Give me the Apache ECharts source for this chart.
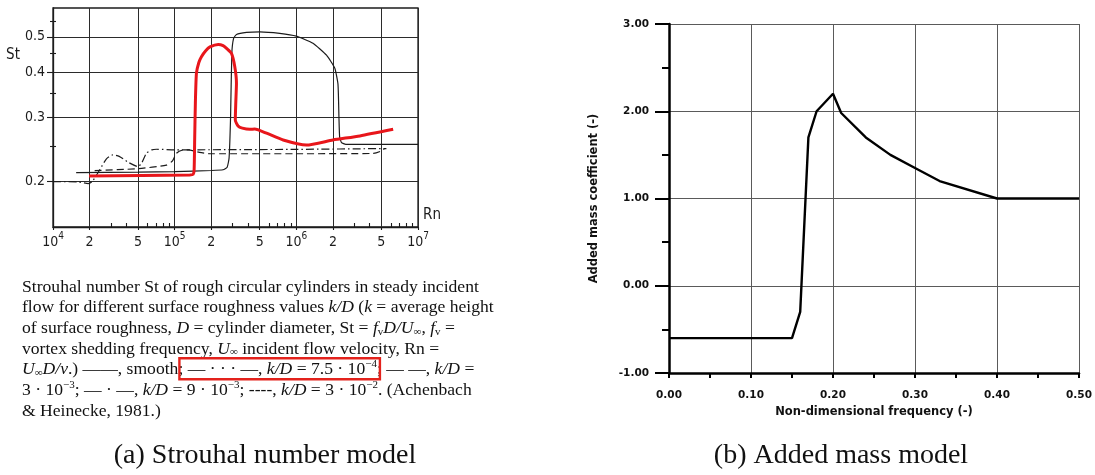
<!DOCTYPE html>
<html>
<head>
<meta charset="utf-8">
<script src="https://cdn.jsdelivr.net/npm/echarts@6.0.0/dist/echarts.min.js"></script>
<style>
  html, body { margin: 0; padding: 0; background: #ffffff; }
  #chart { width: 1095px; height: 475px; }
</style>
</head>
<body>
<div id="chart"></div>
<script>
// ---------- (a) Strouhal number St against Reynolds number Rn (log-log) ----------
const rnTicks = [1e4, 2e4, 5e4, 1e5, 2e5, 5e5, 1e6, 2e6, 5e6, 1e7];
const rnTickLabels = ['{b|10}{p|4}', '{b|2}', '{b|5}', '{b|10}{p|5}', '{b|2}', '{b|5}',
                      '{b|10}{p|6}', '{b|2}', '{b|5}', '{b|10}{p|7}'];
const rnMinorTicks = [3e4, 4e4, 6e4, 7e4, 8e4, 9e4, 3e5, 4e5, 6e5, 7e5, 8e5, 9e5,
                      3e6, 4e6, 6e6, 7e6, 8e6, 9e6];
const stTicks = [0.2, 0.3, 0.4, 0.5];
const stTickLabels = ['0.2', '0.3', '0.4', '0.5'];
const stMinorTicks = [0.25, 0.35, 0.45, 0.55];

// smooth cylinder (solid)
const smoothRn = [1.55e4, 5e4, 1e5, 2e5, 2.5e5, 2.7e5, 2.8e5, 2.88e5, 2.95e5, 3.05e5, 3.22e5,
                  3.9e5, 5.0e5, 7.3e5, 1.0e6, 1.37e6, 1.77e6, 2.07e6, 2.2e6, 2.24e6, 2.27e6,
                  2.35e6, 2.55e6, 1e7];
const smoothSt = [0.2115, 0.2122, 0.213, 0.2145, 0.2155, 0.219, 0.232, 0.30, 0.45, 0.495, 0.5075,
                  0.514, 0.516, 0.511, 0.502, 0.48, 0.445, 0.41, 0.37, 0.30, 0.265,
                  0.256, 0.253, 0.253];

// k/D = 9e-3 (dash-dot)
const roughARn = [1.0e4, 1.6e4, 1.95e4, 2.1e4, 2.42e4, 2.75e4, 3.1e4, 3.5e4, 4.2e4, 5.0e4,
                  5.4e4, 5.86e4, 6.5e4, 7.1e4, 1.0e5, 1.0e6, 5.5e6];
const roughASt = [0.200, 0.1995, 0.1975, 0.200, 0.2153, 0.231, 0.2368, 0.2345, 0.2255, 0.2199,
                  0.226, 0.2393, 0.2445, 0.2454, 0.2445, 0.2452, 0.2465];

// k/D = 3e-3 (long dash)
const roughBRn = [2.2e4, 5e4, 8.56e4, 9.6e4, 1.035e5, 1.17e5, 1.3e5, 1.6e5, 2.0e5, 1e6,
                  4.3e6, 4.9e6, 5.3e6];
const roughBSt = [0.2144, 0.217, 0.222, 0.228, 0.2393, 0.2443, 0.2445, 0.2405, 0.2385, 0.2385,
                  0.239, 0.242, 0.2465];

// adopted St model (red)
const modelRn = [1.98e4, 1.33e5, 1.42e5, 1.445e5, 1.46e5, 1.48e5, 1.51e5, 1.58e5, 1.66e5, 1.8e5,
                 1.95e5, 2.28e5, 2.5e5, 2.67e5, 2.93e5, 3.12e5, 3.22e5, 3.18e5, 3.15e5, 3.32e5,
                 3.6e5, 4.15e5, 4.55e5, 5.69e5, 7.79e5, 1.21e6, 2.0e6, 3.33e6, 6.25e6];
const modelSt = [0.2073, 0.2086, 0.2095, 0.215, 0.26, 0.33, 0.397, 0.425, 0.441, 0.458,
                 0.469, 0.4765, 0.473, 0.4645, 0.45, 0.4136, 0.3724, 0.33, 0.2953, 0.2844,
                 0.2805, 0.2784, 0.279, 0.2716, 0.2602, 0.252, 0.2602, 0.267, 0.2784];

// ---------- (b) Added mass coefficient against non-dimensional frequency ----------
const freq = [0.00, 0.15, 0.16, 0.17, 0.18, 0.20, 0.21, 0.24, 0.27, 0.30, 0.33, 0.40, 0.50];
const addedMass = [-0.60, -0.60, -0.30, 1.70, 2.00, 2.20, 1.98, 1.70, 1.50, 1.35, 1.20, 1.00, 1.00];

// ---------- caption text of panel (a), one token list per line ----------
const captionLines = [
  [['t', 'Strouhal number St of rough circular cylinders in steady incident']],
  [['t', 'flow for different surface roughness values '], ['i', 'k/D'], ['t', ' ('], ['i', 'k'], ['t', ' = average height']],
  [['t', 'of surface roughness, '], ['i', 'D'], ['t', ' = cylinder diameter, St = '], ['i', 'f'], ['b', 'v'],
   ['i', 'D/U'], ['b', '\u221e'], ['t', ', '], ['i', 'f'], ['b', 'v'], ['t', ' =']],
  [['t', 'vortex shedding frequency, '], ['i', 'U'], ['b', '\u221e'], ['t', ' incident flow velocity, Rn =']],
  [['i', 'U'], ['b', '\u221e'], ['i', 'D/\u03bd'], ['t', '.) \u2014\u2014, smooth'], ['t', '; \u2014 \u00b7 \u00b7 \u00b7 \u2014, '],
   ['i', 'k/D'], ['t', ' = 7.5 \u00b7 10'], ['p', '\u22124'], ['t', '; \u2014 \u2014, '], ['i', 'k/D'], ['t', ' =']],
  [['t', '3 \u00b7 10'], ['p', '\u22123'], ['t', '; \u2014 \u00b7 \u2014, '], ['i', 'k/D'], ['t', ' = 9 \u00b7 10'], ['p', '\u22123'],
   ['t', '; ----, '], ['i', 'k/D'], ['t', ' = 3 \u00b7 10'], ['p', '\u22122'], ['t', '. (Achenbach']],
  [['t', '& Heinecke, 1981.)']]
];
const captionA = '(a) Strouhal number model';
const captionB = '(b) Added mass model';

// ---------- helpers ----------
const pairs = (xs, ys) => xs.map((x, i) => [x, ys[i]]);
const nearIndex = (arr, v) => arr.findIndex(a => Math.abs(a - v) <= Math.abs(a) * 1e-6);

const handFont = "'DejaVu Sans Condensed', 'DejaVu Sans', sans-serif";
const serifFont = "'Liberation Serif', 'Times New Roman', serif";
const plotFont = "'DejaVu Sans', Arial, sans-serif";
const ink = '#1c1c1c';

// caption paragraph styles
const capSize = 17.6, capSmall = 11;
const capRich = {
  t: { fontFamily: serifFont, fontSize: capSize, lineHeight: 20, verticalAlign: 'bottom', fill: '#111' },
  i: { fontFamily: serifFont, fontSize: capSize, fontStyle: 'italic', lineHeight: 20, verticalAlign: 'bottom', fill: '#111' },
  p: { fontFamily: serifFont, fontSize: capSmall, lineHeight: 10, verticalAlign: 'top', fill: '#111' },
  b: { fontFamily: serifFont, fontSize: capSmall, lineHeight: 10, verticalAlign: 'bottom', fill: '#111' }
};

// width of a token list, measured with the same fonts the renderer uses
const measureCtx = document.createElement('canvas').getContext('2d');
function tokenWidth(tok) {
  const s = capRich[tok[0]];
  measureCtx.font = (s.fontStyle === 'italic' ? 'italic ' : '') + s.fontSize + 'px ' + s.fontFamily;
  return measureCtx.measureText(tok[1]).width;
}
const tokensWidth = toks => toks.reduce((w, t) => w + tokenWidth(t), 0);

const capX = 22;
const capY0 = 286;
const capStep = 20.7;

const graphics = [];
captionLines.forEach((toks, li) => {
  graphics.push({
    type: 'text', x: capX, y: capY0 + li * capStep,
    style: {
      text: toks.map(t => '{' + t[0] + '|' + t[1] + '}').join(''),
      rich: capRich, align: 'left', verticalAlign: 'middle'
    }
  });
});

// highlight box around the k/D = 7.5e-4 entry (line 5, tokens 4..7)
{
  const line = captionLines[4];
  const startW = tokensWidth(line.slice(0, 4));
  const endW = tokensWidth(line.slice(0, 8));
  const cy = capY0 + 4 * capStep;
  graphics.push({
    type: 'rect',
    shape: { x: capX + startW + 1, y: cy - 10.5, width: endW - startW + 2, height: 21 },
    style: { fill: 'none', stroke: '#e3221c', lineWidth: 2.4 }
  });
}

// axis symbols drawn in the hand lettering of panel (a)
graphics.push({ type: 'text', x: 13, y: 55,
  style: { text: 'St', fontFamily: handFont, fontSize: 15, fill: ink, align: 'center', verticalAlign: 'middle' } });
graphics.push({ type: 'text', x: 423, y: 215,
  style: { text: 'Rn', fontFamily: handFont, fontSize: 15, fill: ink, align: 'left', verticalAlign: 'middle' } });

// sub-figure captions
graphics.push({ type: 'text', x: 265, y: 456,
  style: { text: captionA, fontFamily: serifFont, fontSize: 28, fill: '#111', align: 'center', verticalAlign: 'middle' } });
graphics.push({ type: 'text', x: 841, y: 456,
  style: { text: captionB, fontFamily: serifFont, fontSize: 28, fill: '#111', align: 'center', verticalAlign: 'middle' } });

// ---------- chart ----------
const chart = echarts.init(document.getElementById('chart'), null, { renderer: 'canvas' });

const handRich = {
  b: { fontFamily: handFont, fontSize: 14, lineHeight: 18, verticalAlign: 'bottom', color: ink },
  p: { fontFamily: handFont, fontSize: 10, lineHeight: 10, verticalAlign: 'top', color: ink }
};

const rightLabel = { fontFamily: plotFont, fontWeight: 'bold', fontSize: 10.5, color: '#111' };
const rightName = { fontFamily: plotFont, fontWeight: 'bold', fontSize: 11.5, color: '#111' };

const logX = {
  type: 'log', logBase: 10, gridIndex: 0, min: 1e4, max: 1e7, position: 'bottom'
};
const logY = {
  type: 'log', logBase: 10, gridIndex: 0, min: 0.15, max: 0.6, position: 'left'
};

const option = {
  animation: false,
  backgroundColor: '#ffffff',
  grid: [
    { left: 53, right: 677, top: 8, bottom: 248, show: true, borderColor: ink, borderWidth: 1.3,
      backgroundColor: 'transparent' },
    { left: 669, right: 16, top: 24, bottom: 102 }
  ],
  xAxis: [
    Object.assign({}, logX, {
      axisLine: { show: true, lineStyle: { color: ink, width: 1.3 } },
      axisTick: { show: true, customValues: rnTicks, length: 3, lineStyle: { color: ink, width: 1.1 } },
      axisLabel: {
        show: true, customValues: rnTicks, margin: 4, rich: handRich,
        formatter: v => rnTickLabels[nearIndex(rnTicks, v)] || ''
      },
      splitLine: { show: true, lineStyle: { color: '#2b2b2b', width: 1 } },
      minorTick: { show: false }, minorSplitLine: { show: false }
    }),
    Object.assign({}, logX, {
      offset: 0,
      axisLine: { show: false },
      axisTick: { show: true, inside: true, customValues: rnMinorTicks, length: 4, lineStyle: { color: ink, width: 1.1 } },
      axisLabel: { show: false },
      splitLine: { show: false }
    }),
    {
      type: 'value', gridIndex: 1, min: 0, max: 0.5, interval: 0.1, position: 'bottom',
      name: 'Non-dimensional frequency (-)', nameLocation: 'middle', nameGap: 32,
      nameTextStyle: rightName,
      axisLine: { show: true, onZero: false, lineStyle: { color: '#000', width: 2.5 } },
      axisTick: { show: true, length: 5, lineStyle: { color: '#000', width: 2 } },
      minorTick: { show: true, splitNumber: 2, length: 5, lineStyle: { color: '#000', width: 2 } },
      axisLabel: Object.assign({ margin: 17, formatter: v => v.toFixed(2) }, rightLabel),
      splitLine: { show: true, lineStyle: { color: '#5a5a5a', width: 1 } }
    }
  ],
  yAxis: [
    Object.assign({}, logY, {
      axisLine: { show: true, lineStyle: { color: ink, width: 1.3 } },
      axisTick: { show: true, customValues: stTicks, length: 6, lineStyle: { color: ink, width: 1.1 } },
      axisLabel: {
        show: true, customValues: stTicks, margin: 8,
        fontFamily: handFont, fontSize: 14, color: ink,
        formatter: v => stTickLabels[nearIndex(stTicks, v)] || ''
      },
      splitLine: { show: true, lineStyle: { color: '#2b2b2b', width: 1 } },
      minorTick: { show: false }, minorSplitLine: { show: false }
    }),
    Object.assign({}, logY, {
      offset: 0,
      axisLine: { show: false },
      axisTick: { show: true, customValues: stMinorTicks, length: 3, lineStyle: { color: ink, width: 1.1 } },
      axisLabel: { show: false },
      splitLine: { show: false }
    }),
    Object.assign({}, logY, {
      offset: 0,
      axisLine: { show: false },
      axisTick: { show: true, inside: true, customValues: stMinorTicks, length: 3, lineStyle: { color: ink, width: 1.1 } },
      axisLabel: { show: false },
      splitLine: { show: false }
    }),
    {
      type: 'value', gridIndex: 1, min: -1, max: 3, interval: 1, position: 'left',
      name: 'Added mass coefficient (-)', nameLocation: 'middle', nameGap: 69, nameRotate: 90,
      nameTextStyle: rightName,
      axisLine: { show: true, onZero: false, lineStyle: { color: '#000', width: 2.5 } },
      axisTick: { show: true, length: 14, lineStyle: { color: '#000', width: 2 } },
      minorTick: { show: true, splitNumber: 2, length: 7, lineStyle: { color: '#000', width: 2 } },
      axisLabel: Object.assign({ margin: 20, formatter: v => v.toFixed(2) }, rightLabel),
      splitLine: { show: true, lineStyle: { color: '#5a5a5a', width: 1 } }
    }
  ],
  graphic: graphics,
  series: [
    {
      name: 'smooth', type: 'line', xAxisIndex: 0, yAxisIndex: 0,
      data: pairs(smoothRn, smoothSt), symbol: 'none', smooth: 0.15,
      lineStyle: { color: ink, width: 1.2 }
    },
    {
      name: 'k/D = 9e-3', type: 'line', xAxisIndex: 0, yAxisIndex: 0,
      data: pairs(roughARn, roughASt), symbol: 'none', smooth: 0.2,
      lineStyle: { color: ink, width: 1.2, type: [8, 3, 1.5, 3] }
    },
    {
      name: 'k/D = 3e-3', type: 'line', xAxisIndex: 0, yAxisIndex: 0,
      data: pairs(roughBRn, roughBSt), symbol: 'none', smooth: 0.2,
      lineStyle: { color: ink, width: 1.2, type: [7, 4] }
    },
    {
      name: 'model', type: 'line', xAxisIndex: 0, yAxisIndex: 0,
      data: pairs(modelRn, modelSt), symbol: 'none', smooth: 0.2,
      lineStyle: { color: '#e8161b', width: 3 }
    },
    {
      name: 'added mass', type: 'line', xAxisIndex: 2, yAxisIndex: 3,
      data: pairs(freq, addedMass), symbol: 'none',
      lineStyle: { color: '#000', width: 2.4 }
    }
  ]
};

chart.setOption(option);
</script>
</body>
</html>
